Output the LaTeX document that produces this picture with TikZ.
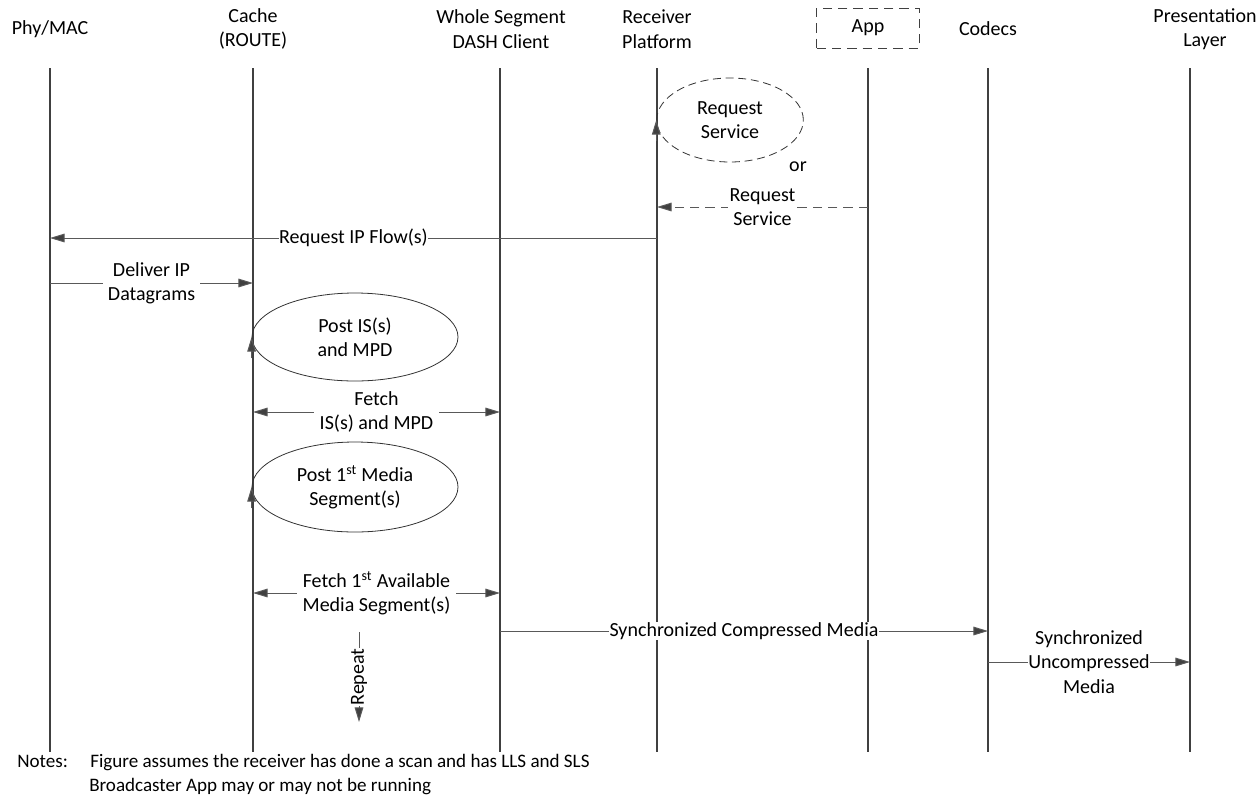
\documentclass[tikz,border=0pt]{standalone}
\usepackage{fontspec}
\setmainfont{Carlito}
\usetikzlibrary{positioning,arrows.meta,shapes.geometric}
\definecolor{lifegray}{HTML}{404040}
\definecolor{msggray}{HTML}{595959}
\begin{document}
\begin{tikzpicture}[x=0.75pt,y=-0.75pt,font=\fontsize{15}{18.3}\selectfont,
    life/.style={line width=1.5pt,draw=lifegray},
    msg/.style={line width=0.75pt,draw=msggray,-{Triangle[length=11pt,width=6.5pt,fill=lifegray]}},
    both/.style={msg,{Triangle[length=11pt,width=6.5pt,fill=lifegray]}-{Triangle[length=11pt,width=6.5pt,fill=lifegray]}},
    lbl/.style={fill=white,align=center,inner sep=1.5pt},
    act/.style={ellipse,draw=black!80,line width=0.6pt,align=center,inner sep=0pt},
    note/.style={anchor=base west,inner sep=0pt,font=\fontsize{14.3}{18}\selectfont}]
  \useasboundingbox (0,0) rectangle (1257,801);
  % headers
    \node[align=center] (T0) at (50,29) {Phy/MAC};
    \node[align=center] (T1) at (253,29) {Cache\\(ROUTE)};
    \node[align=center] (T2) at (501,29) {Whole Segment\\DASH Client};
    \node[align=center] (T3) at (657,29) {Receiver\\Platform};
    \node[draw=lifegray,dash pattern=on 7pt off 4.5pt,minimum width=77pt,minimum height=30pt] (T4) at (868,28) {App};
    \node (T5) at (988,29) {Codecs};
    \node[align=center] (T6) at (1205,29) {Presentation\\Layer};
  % lifelines
    \coordinate (L0) at (50,68);   \coordinate (B0) at (50,752);
    \coordinate (L1) at (253,68);  \coordinate (B1) at (253,752);
    \coordinate (L2) at (500,68);  \coordinate (B2) at (500,752);
    \coordinate (L3) at (657,68);  \coordinate (B3) at (657,752);
    \coordinate (L4) at (868,68);  \coordinate (B4) at (868,752);
    \coordinate (L5) at (988,68);  \coordinate (B5) at (988,752);
    \coordinate (L6) at (1190,68); \coordinate (B6) at (1190,752);
    \draw[life] (L0) -- (B0);
    \draw[life] (L1) -- (B1);
    \draw[life] (L2) -- (B2);
    \draw[life] (L3) -- (B3);
    \draw[life] (L4) -- (B4);
    \draw[life] (L5) -- (B5);
    \draw[life] (L6) -- (B6);
  % request service
    \node[act,dash pattern=on 6pt off 3.5pt,minimum width=110pt,minimum height=63pt] (E1) at (730,120) {Request\\Service};
    \coordinate[below=16pt of E1.west] (E1s);
    \draw[msg] (E1s) -- (E1.west);
    \node (OR) at (798,167) {or};
    \coordinate (M1a) at (868,207); \coordinate (M1b) at (657,207);
    \draw[msg,dash pattern=on 7pt off 4.5pt] (M1a) -- node[lbl,midway] {Request\\Service} (M1b);
    \coordinate (M2a) at (657,238); \coordinate (M2b) at (50,238);
    \draw[msg] (M2a) -- node[lbl,midway,inner sep=0.5pt] {Request IP Flow(s)} (M2b);
    \coordinate (M3a) at (50,283); \coordinate (M3b) at (253,283);
    \draw[msg] (M3a) -- node[lbl,midway,inner xsep=4pt] {Deliver IP\\Datagrams} (M3b);
  % cache
    \node[act,minimum width=154.5pt,minimum height=66pt] (E2) at (355,337) {Post IS(s)\\and MPD};
    \coordinate[below=16pt of E2.west] (E2s);
    \draw[msg] (E2s) -- (E2.west);
    \coordinate (M4a) at (253,412); \coordinate (M4b) at (500,412);
    \draw[both] (M4a) -- node[lbl,midway,inner xsep=4pt] {Fetch\\IS(s) and MPD} (M4b);
    \node[act,minimum width=154.5pt,minimum height=67.5pt] (E3) at (355,487) {Post 1\textsuperscript{st} Media\\Segment(s)};
    \coordinate[below=16pt of E3.west] (E3s);
    \draw[msg] (E3s) -- (E3.west);
    \coordinate (M5a) at (253,593); \coordinate (M5b) at (500,593);
    \draw[both] (M5a) -- node[lbl,midway,inner xsep=4pt] {Fetch 1\textsuperscript{st} Available\\Media Segment(s)} (M5b);
    \coordinate (R0) at (359,632); \coordinate (R1) at (359,722);
    \draw[msg] (R0) -- node[lbl,midway,rotate=90,inner sep=0.5pt] {Repeat} (R1);
  % media
    \coordinate (M6a) at (500,631); \coordinate (M6b) at (988,631);
    \draw[msg] (M6a) -- node[lbl,midway,inner sep=0.5pt] {Synchronized Compressed Media} (M6b);
    \coordinate (M7a) at (988,662); \coordinate (M7b) at (1190,662);
    \draw[msg] (M7a) -- node[lbl,midway,inner sep=0.5pt] {Synchronized\\Uncompressed\\Media} (M7b);
  % notes
    \node[note] (N0) at (17,767) {Notes:};
    \node[note] (N1) at (90,767) {Figure assumes the receiver has done a scan and has LLS and SLS};
    \node[note] (N2) at (89,791) {Broadcaster App may or may not be running};
\end{tikzpicture}
\end{document}
